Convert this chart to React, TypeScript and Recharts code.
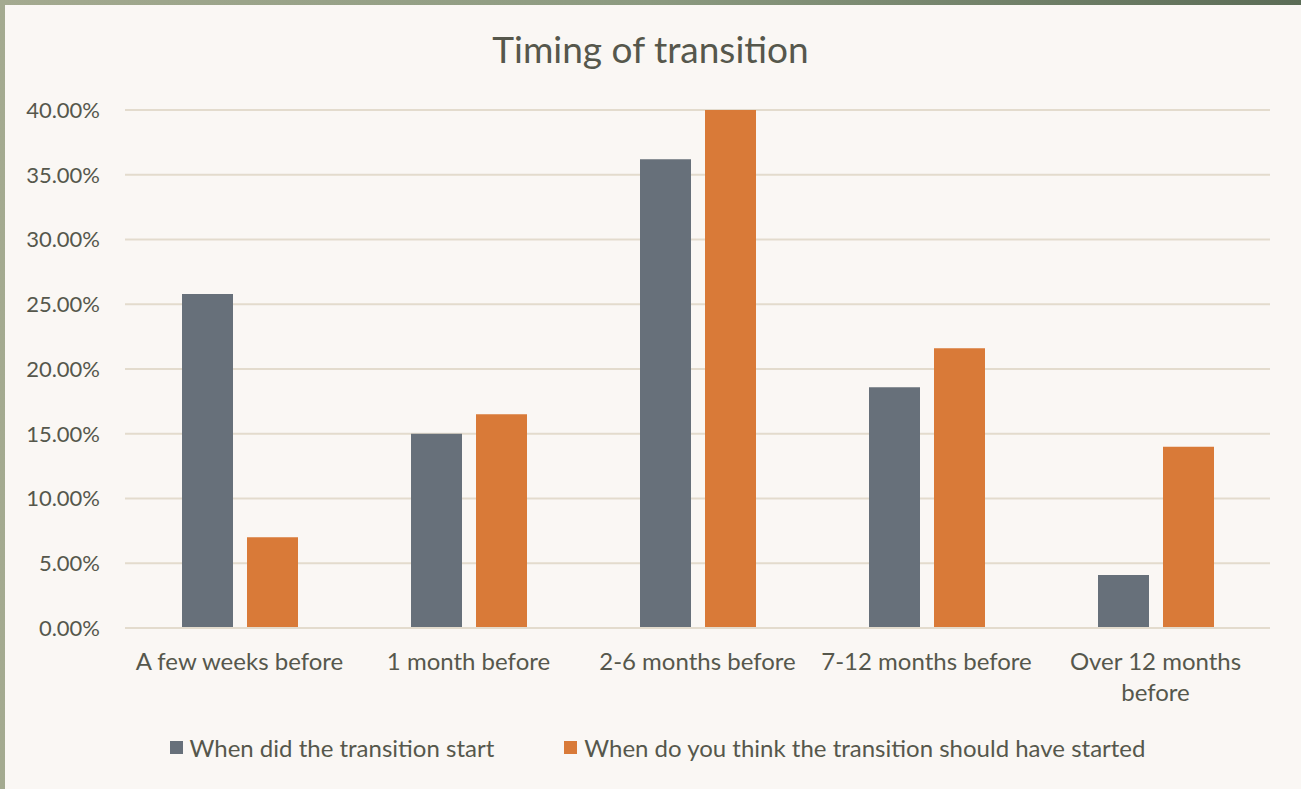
import React from "react";
import { BarChart, Bar, XAxis, YAxis, CartesianGrid } from "recharts";

const categories = [
  "A few weeks before",
  "1 month before",
  "2-6 months before",
  "7-12 months before",
  "Over 12 months before",
];
const tickLines: string[][] = [
  ["A few weeks before"],
  ["1 month before"],
  ["2-6 months before"],
  ["7-12 months before"],
  ["Over 12 months", "before"],
];
const didStart = [0.258, 0.15, 0.362, 0.186, 0.041];
const shouldHaveStarted = [0.07, 0.165, 0.4, 0.216, 0.14];
const yTicks = [0, 0.05, 0.1, 0.15, 0.2, 0.25, 0.3, 0.35, 0.4];
const seriesNames = [
  "When did the transition start",
  "When do you think the transition should have started",
];

const data = categories.map((c, i) => ({
  name: c,
  idx: i,
  a: didStart[i],
  b: shouldHaveStarted[i],
}));

const TEXT = "#56574c";
const GRAY = "#67707a";
const ORANGE = "#d97a38";
const GRID = "#e3dbcd";
const FONT = "Lato, 'Open Sans', sans-serif";

const XTick = (props: any) => {
  const { x, y, index } = props;
  const lines = tickLines[index] || [String(props.payload.value)];
  return (
    <g>
      {lines.map((l, k) => (
        <text
          key={k}
          x={x}
          y={y + 34 + k * 31}
          textAnchor="middle"
          fill={TEXT}
          fontSize={24}
          fontFamily={FONT}
        >
          {l}
        </text>
      ))}
    </g>
  );
};

export default function App() {
  return (
    <div
      style={{
        position: "absolute",
        left: 0,
        top: 0,
        width: 1301,
        height: 789,
        background: "linear-gradient(90deg, #a4aa90 0%, #8c9a80 50%, #5b6c56 100%)",
        overflow: "hidden",
      }}
    >
      <div
        style={{
          position: "absolute",
          left: 5,
          top: 5,
          width: 1296,
          height: 784,
          background: "#faf7f4",
        }}
      />
      <div
        style={{
          position: "absolute",
          left: 0,
          top: 26,
          width: 1301,
          textAlign: "center",
          fontFamily: FONT,
          fontSize: 37,
          color: TEXT,
        }}
      >
        Timing of transition
      </div>
      <div style={{ position: "absolute", left: 0, top: 0 }}>
        <BarChart
          width={1301}
          height={789}
          data={data}
          margin={{ top: 110, right: 31, left: 0, bottom: 101 }}
          barGap={14}
          barSize={51}
        >
          <CartesianGrid vertical={false} stroke={GRID} strokeWidth={2} />
          <XAxis
            dataKey="name"
            axisLine={{ stroke: GRID, strokeWidth: 2 }}
            tickLine={false}
            height={60}
            interval={0}
            tick={<XTick />}
          />
          <YAxis
            width={125}
            domain={[0, 0.4]}
            ticks={yTicks}
            axisLine={false}
            tickLine={false}
            tickMargin={19}
            tickFormatter={(v: number) => (v * 100).toFixed(2) + "%"}
            tick={{ fill: TEXT, fontSize: 22, fontFamily: FONT }}
          />
          <Bar dataKey="a" fill={GRAY} isAnimationActive={false} />
          <Bar dataKey="b" fill={ORANGE} isAnimationActive={false} />
        </BarChart>
      </div>
      <div
        style={{
          position: "absolute",
          left: 7,
          top: 733,
          width: 1301,
          display: "flex",
          justifyContent: "center",
          fontFamily: FONT,
          fontSize: 24,
          color: TEXT,
        }}
      >
        {seriesNames.map((n, i) => (
          <div
            key={n}
            style={{
              display: "flex",
              alignItems: "center",
              marginLeft: i === 0 ? 0 : 70,
            }}
          >
            <span
              style={{
                display: "inline-block",
                width: 13,
                height: 13,
                background: i === 0 ? GRAY : ORANGE,
                marginRight: 7,
              }}
            />
            <span>{n}</span>
          </div>
        ))}
      </div>
    </div>
  );
}
